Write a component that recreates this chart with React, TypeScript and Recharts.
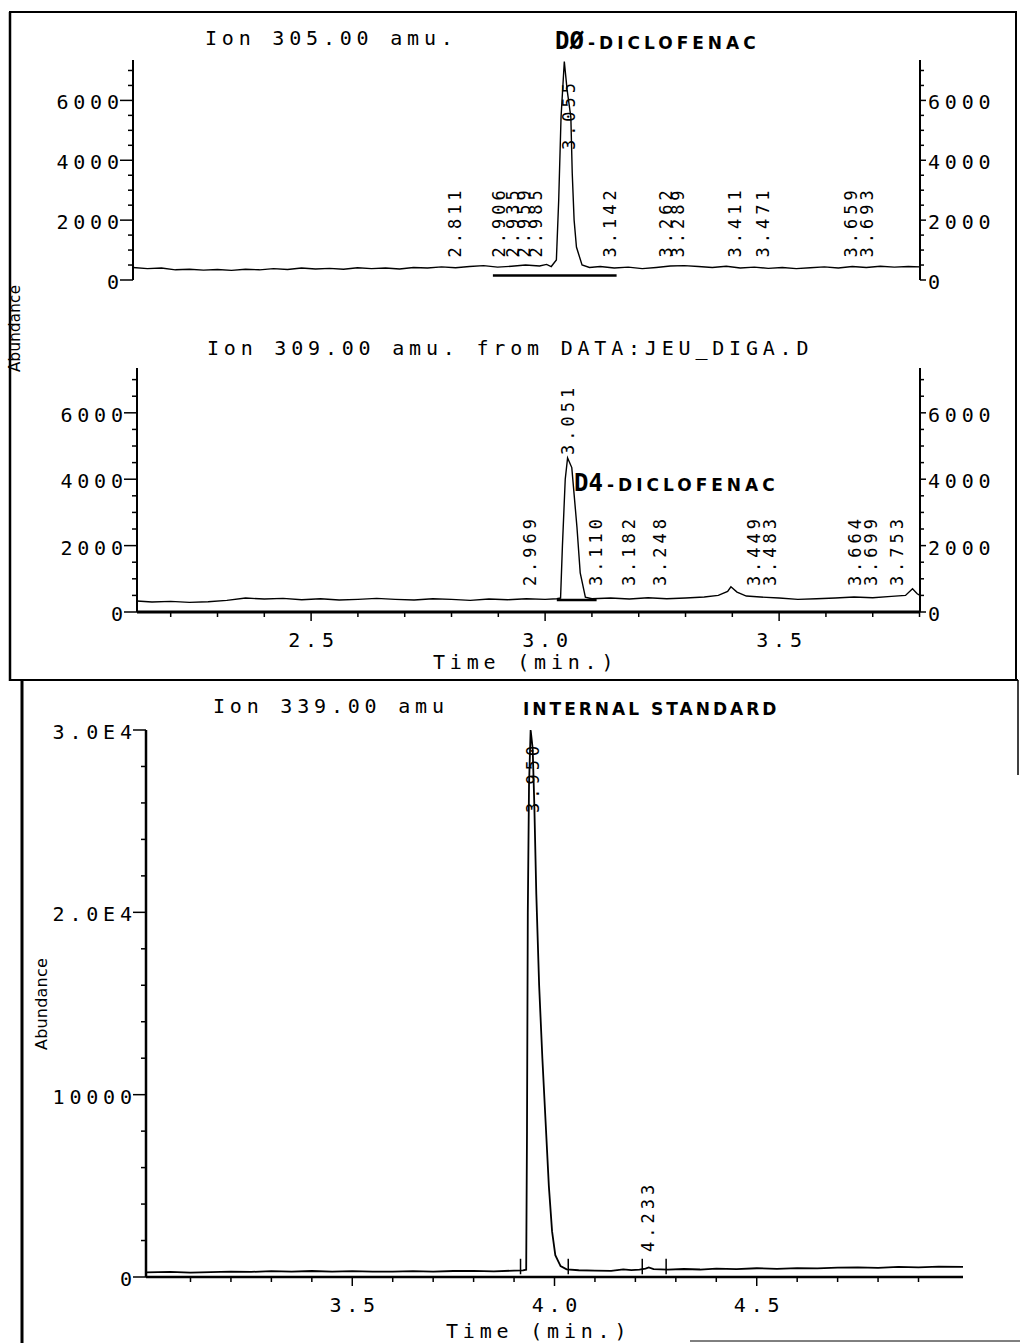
import React from 'react';
import { ComposedChart, Line, Scatter, XAxis, YAxis, ReferenceLine } from 'recharts';

const FONT = '"DejaVu Sans Mono", "Liberation Mono", monospace';
const LS = 4.8;

// ---------- DATA ----------
// Ion 305.00 amu trace: [time (min), abundance]
const ion305: [number, number][] = [
  [2.119, 420], [2.15, 380], [2.18, 400], [2.21, 340], [2.24, 360], [2.27, 330],
  [2.3, 350], [2.33, 320], [2.36, 360], [2.39, 340], [2.42, 380], [2.45, 350],
  [2.48, 400], [2.51, 370], [2.54, 390], [2.57, 360], [2.6, 410], [2.63, 380],
  [2.66, 400], [2.69, 370], [2.72, 420], [2.75, 400], [2.78, 440], [2.81, 410],
  [2.84, 450], [2.87, 480], [2.9, 430], [2.93, 460], [2.96, 500], [2.99, 470],
  [3.005, 520], [3.015, 450], [3.026, 670], [3.031, 2670], [3.036, 5440], [3.043, 7300],
  [3.049, 6350], [3.057, 5440], [3.06, 3570], [3.064, 2000], [3.069, 1100], [3.081, 500],
  [3.097, 420], [3.12, 450], [3.15, 400], [3.18, 430], [3.21, 380], [3.24, 420],
  [3.27, 470], [3.3, 480], [3.33, 450], [3.36, 420], [3.39, 460], [3.42, 400],
  [3.45, 430], [3.48, 390], [3.51, 420], [3.54, 380], [3.57, 410], [3.6, 440],
  [3.63, 400], [3.66, 450], [3.69, 420], [3.72, 460], [3.75, 430], [3.78, 450],
  [3.805, 440],
];
const ion305Integration: [number, number][] = [[2.89, 150], [3.155, 150]];
const ion305PeakTimes = [2.811, 2.906, 2.935, 2.959, 2.985, 3.142, 3.262, 3.289, 3.411, 3.471, 3.659, 3.693];
const ion305ApexTime = 3.055;

// Ion 309.00 amu trace
const ion309: [number, number][] = [
  [2.128, 330], [2.16, 300], [2.2, 320], [2.24, 290], [2.28, 310], [2.32, 350],
  [2.36, 420], [2.4, 390], [2.44, 410], [2.48, 370], [2.52, 400], [2.56, 360],
  [2.6, 380], [2.64, 410], [2.68, 380], [2.72, 360], [2.76, 400], [2.8, 380],
  [2.84, 350], [2.88, 390], [2.92, 370], [2.96, 400], [3.0, 380], [3.025, 400],
  [3.033, 420], [3.037, 2000], [3.043, 4000], [3.048, 4640], [3.057, 4350], [3.068, 2560],
  [3.075, 1180], [3.086, 450], [3.1, 400], [3.14, 420], [3.18, 390], [3.22, 430],
  [3.26, 400], [3.3, 420], [3.34, 450], [3.37, 500], [3.39, 620], [3.397, 760],
  [3.41, 600], [3.43, 480], [3.46, 450], [3.5, 420], [3.54, 380], [3.58, 400],
  [3.62, 420], [3.66, 450], [3.7, 430], [3.74, 470], [3.77, 500], [3.785, 700],
  [3.795, 550], [3.801, 500],
];
const ion309Integration: [number, number][] = [[3.025, 360], [3.11, 360]];
const ion309PeakTimes = [2.969, 3.11, 3.182, 3.248, 3.449, 3.483, 3.664, 3.699, 3.753];
const ion309ApexTime = 3.051;

// Ion 339.00 amu trace (internal standard)
const ion339: [number, number][] = [
  [2.99, 250], [3.05, 280], [3.1, 240], [3.15, 270], [3.2, 300], [3.25, 280],
  [3.3, 320], [3.35, 290], [3.4, 330], [3.45, 300], [3.5, 320], [3.55, 300],
  [3.6, 290], [3.65, 320], [3.7, 300], [3.75, 330], [3.8, 340], [3.85, 310],
  [3.9, 350], [3.922, 360], [3.93, 400], [3.932, 8000], [3.934, 20000], [3.937, 27000],
  [3.941, 30000], [3.946, 29000], [3.95, 26000], [3.955, 21000], [3.962, 16000], [3.97, 12000],
  [3.978, 8500], [3.986, 5000], [3.994, 2500], [4.002, 1200], [4.015, 600], [4.03, 420],
  [4.06, 370], [4.1, 350], [4.14, 340], [4.17, 420], [4.19, 380], [4.21, 400],
  [4.225, 460], [4.233, 520], [4.245, 430], [4.28, 400], [4.32, 440], [4.36, 410],
  [4.4, 460], [4.45, 430], [4.5, 480], [4.55, 450], [4.6, 490], [4.65, 470],
  [4.7, 510], [4.75, 530], [4.8, 500], [4.85, 550], [4.9, 530], [4.95, 570],
  [5.01, 550],
];
const ion339PeakTimes = [4.233];
const ion339ApexTime = 3.95;
const ion339Markers = [3.916, 4.034, 4.217, 4.276];

// ---------- AXIS TICKS ----------
const smallAbundTicks = [0, 500, 1000, 1500, 2000, 2500, 3000, 3500, 4000, 4500, 5000, 5500, 6000, 6500, 7000];
const smallAbundLabels: Record<number, string> = { 0: '0', 2000: '2000', 4000: '4000', 6000: '6000' };
const largeAbundTicks = [0, 2000, 4000, 6000, 8000, 10000, 12000, 14000, 16000, 18000, 20000, 22000, 24000, 26000, 28000, 30000];
const largeAbundLabels: Record<number, string> = { 0: '0', 10000: '10000', 20000: '2.0E4', 30000: '3.0E4' };
const timeTicksA = [2.2, 2.3, 2.4, 2.5, 2.6, 2.7, 2.8, 2.9, 3.0, 3.1, 3.2, 3.3, 3.4, 3.5, 3.6, 3.7, 3.8];
const timeLabelsA = [2.5, 3.0, 3.5];
const timeTicksB = [3.1, 3.2, 3.3, 3.4, 3.5, 3.6, 3.7, 3.8, 3.9, 4.0, 4.1, 4.2, 4.3, 4.4, 4.5, 4.6, 4.7, 4.8, 4.9];
const timeLabelsB = [3.5, 4.0, 4.5];

// ---------- HELPERS ----------
const toPts = (arr: [number, number][]) => arr.map(([t, v]) => ({ t, v }));
const labelPts = (times: number[], level: number) => times.map((t) => ({ t, v: level, text: t.toFixed(3) }));

const LeftTick = (labels: Record<number, string>) => (props: any) => {
  const { x, y, payload } = props;
  const label = labels[payload.value];
  const major = label !== undefined;
  return (
    <g>
      <line x1={x - (major ? 13 : 5)} x2={x} y1={y} y2={y} stroke="#000" strokeWidth={1.5} />
      {major && (
        <text x={x - 14 + LS} y={y + 2} textAnchor="end" dominantBaseline="central" fontFamily={FONT} fontSize={20} letterSpacing={LS} fill="#000">
          {label}
        </text>
      )}
    </g>
  );
};

const RightTick = (labels: Record<number, string>) => (props: any) => {
  const { x, y, payload } = props;
  const label = labels[payload.value];
  const major = label !== undefined;
  return (
    <g>
      <line x1={x} x2={x + (major ? 6 : 4)} y1={y} y2={y} stroke="#000" strokeWidth={1.5} />
      {major && (
        <text x={x + 8} y={y + 2} textAnchor="start" dominantBaseline="central" fontFamily={FONT} fontSize={20} letterSpacing={LS} fill="#000">
          {label}
        </text>
      )}
    </g>
  );
};

const TimeTick = (labels: number[]) => (props: any) => {
  const { x, y, payload } = props;
  const v = payload.value as number;
  const major = labels.some((l) => Math.abs(l - v) < 1e-6);
  return (
    <g>
      <line x1={x} x2={x} y1={y} y2={y + (major ? 9 : 5)} stroke="#000" strokeWidth={1.5} />
      {major && (
        <text x={x + LS / 2} y={y + 35} textAnchor="middle" fontFamily={FONT} fontSize={20} letterSpacing={LS} fill="#000">
          {v.toFixed(1)}
        </text>
      )}
    </g>
  );
};

const PeakLabel = (props: any) => {
  const { cx, cy, payload } = props;
  if (cx == null || cy == null) return <g />;
  const x = cx - 1;
  return (
    <text
      x={x}
      y={cy}
      transform={`rotate(-90 ${x} ${cy})`}
      dominantBaseline="central"
      textAnchor="start"
      fontFamily={FONT}
      fontSize={17}
      letterSpacing={4}
      fill="#000"
    >
      {payload.text}
    </text>
  );
};

const axisLine = { stroke: '#000', strokeWidth: 2 };

export default function App() {
  const p305 = toPts(ion305);
  const p309 = toPts(ion309);
  const p339 = toPts(ion339);
  const lab305 = [...labelPts(ion305PeakTimes, 750), ...labelPts([ion305ApexTime], 4340)];
  const lab309 = [...labelPts(ion309PeakTimes, 780), ...labelPts([ion309ApexTime], 4730)];
  const lab339 = [...labelPts(ion339PeakTimes, 1370), ...labelPts([ion339ApexTime], 25450)];

  const txt = { fontFamily: FONT, fontSize: 20, letterSpacing: LS, fill: '#000' } as const;
  const boldSans = { fontFamily: '"DejaVu Sans", sans-serif', fontWeight: 700, fontSize: 17, letterSpacing: 4, fill: '#000' } as const;
  const bigBold = { fontFamily: FONT, fontWeight: 700, fontSize: 24, fill: '#000' } as const;

  return (
    <div style={{ position: 'absolute', left: 0, top: 0, width: 1020, height: 1343, background: '#fff', overflow: 'hidden' }}>
      {/* Panel 1: Ion 305 */}
      <div style={{ position: 'absolute', left: 0, top: 0 }}>
        <ComposedChart width={1020} height={300} margin={{ top: 60, right: 0, bottom: 20, left: 0 }}>
          <XAxis type="number" dataKey="t" domain={[2.119, 3.805]} hide />
          <YAxis yAxisId="l" type="number" dataKey="v" domain={[0, 7350]} ticks={smallAbundTicks} interval={0}
            width={133} tickSize={0} tickMargin={0} tickLine={false} axisLine={axisLine} tick={LeftTick(smallAbundLabels)} />
          <YAxis yAxisId="r" orientation="right" type="number" dataKey="v" domain={[0, 7350]} ticks={smallAbundTicks} interval={0}
            width={100} tickSize={0} tickMargin={0} tickLine={false} axisLine={axisLine} tick={RightTick(smallAbundLabels)} />
          <Line yAxisId="r" data={p305} dataKey="v" stroke="none" dot={false} isAnimationActive={false} />
          <Line yAxisId="l" data={toPts(ion305Integration)} dataKey="v" type="linear" stroke="#000" strokeWidth={2.5} dot={false} isAnimationActive={false} />
          <Line yAxisId="l" data={p305} dataKey="v" type="linear" stroke="#000" strokeWidth={1.4} dot={false} isAnimationActive={false} />
          <Scatter yAxisId="l" data={lab305} dataKey="v" shape={PeakLabel} isAnimationActive={false} />
        </ComposedChart>
      </div>

      {/* Panel 2: Ion 309 */}
      <div style={{ position: 'absolute', left: 0, top: 300 }}>
        <ComposedChart width={1020} height={380} margin={{ top: 68, right: 0, bottom: 28, left: 0 }}>
          <XAxis type="number" dataKey="t" domain={[2.128, 3.801]} ticks={timeTicksA} interval={0} height={40}
            tickSize={0} tickMargin={0} tickLine={false} axisLine={{ stroke: '#000', strokeWidth: 3 }} tick={TimeTick(timeLabelsA)} />
          <YAxis yAxisId="l" type="number" dataKey="v" domain={[0, 7350]} ticks={smallAbundTicks} interval={0}
            width={137} tickSize={0} tickMargin={0} tickLine={false} axisLine={axisLine} tick={LeftTick(smallAbundLabels)} />
          <YAxis yAxisId="r" orientation="right" type="number" dataKey="v" domain={[0, 7350]} ticks={smallAbundTicks} interval={0}
            width={100} tickSize={0} tickMargin={0} tickLine={false} axisLine={axisLine} tick={RightTick(smallAbundLabels)} />
          <Line yAxisId="r" data={p309} dataKey="v" stroke="none" dot={false} isAnimationActive={false} />
          <Line yAxisId="l" data={toPts(ion309Integration)} dataKey="v" type="linear" stroke="#000" strokeWidth={2.5} dot={false} isAnimationActive={false} />
          <Line yAxisId="l" data={p309} dataKey="v" type="linear" stroke="#000" strokeWidth={1.4} dot={false} isAnimationActive={false} />
          <Scatter yAxisId="l" data={lab309} dataKey="v" shape={PeakLabel} isAnimationActive={false} />
        </ComposedChart>
      </div>

      {/* Panel 3: Ion 339 */}
      <div style={{ position: 'absolute', left: 0, top: 680 }}>
        <ComposedChart width={1020} height={663} margin={{ top: 50, right: 57, bottom: 26, left: 0 }}>
          <XAxis type="number" dataKey="t" domain={[2.99, 5.01]} ticks={timeTicksB} interval={0} height={40}
            tickSize={0} tickMargin={0} tickLine={false} axisLine={{ stroke: '#000', strokeWidth: 2.5 }} tick={TimeTick(timeLabelsB)} />
          <YAxis yAxisId="l" type="number" dataKey="v" domain={[0, 30000]} ticks={largeAbundTicks} interval={0}
            width={146} tickSize={0} tickMargin={0} tickLine={false} axisLine={{ stroke: '#000', strokeWidth: 2.5 }} tick={LeftTick(largeAbundLabels)} />
          {ion339Markers.map((t) => (
            <ReferenceLine key={t} yAxisId="l" segment={[{ x: t, y: 150 }, { x: t, y: 1000 }]} stroke="#000" strokeWidth={1.5} ifOverflow="visible" />
          ))}
          <Line yAxisId="l" data={p339} dataKey="v" type="linear" stroke="#000" strokeWidth={1.8} dot={false} isAnimationActive={false} />
          <Scatter yAxisId="l" data={lab339} dataKey="v" shape={PeakLabel} isAnimationActive={false} />
        </ComposedChart>
      </div>

      {/* Frames and titles */}
      <svg width={1020} height={1343} style={{ position: 'absolute', left: 0, top: 0, pointerEvents: 'none' }}>
        <line x1={9} x2={1017} y1={12} y2={12} stroke="#000" strokeWidth={2} />
        <line x1={10} x2={10} y1={12} y2={681} stroke="#000" strokeWidth={2.5} />
        <line x1={1016} x2={1016} y1={12} y2={681} stroke="#000" strokeWidth={2} />
        <line x1={9} x2={1018} y1={680} y2={680} stroke="#000" strokeWidth={2} />
        <line x1={22} x2={22} y1={680} y2={1343} stroke="#000" strokeWidth={3} />
        <line x1={1018} x2={1018} y1={680} y2={775} stroke="#000" strokeWidth={1.5} />
        <line x1={690} x2={1020} y1={1341} y2={1341} stroke="#000" strokeWidth={1} />

        <text x={205} y={45} {...txt}>Ion 305.00 amu.</text>
        <text x={555} y={49} {...bigBold}>DØ</text>
        <text x={588} y={49} {...boldSans}>-DICLOFENAC</text>

        <text x={207} y={355} {...txt}>Ion 309.00 amu. from DATA:JEU_DIGA.D</text>
        <text x={574} y={491} {...bigBold}>D4</text>
        <text x={607} y={491} {...boldSans}>-DICLOFENAC</text>
        <text x={433} y={669} {...txt}>Time (min.)</text>

        <text x={213} y={713} {...txt}>Ion 339.00 amu</text>
        <text x={523} y={715} fontFamily='"DejaVu Sans", sans-serif' fontWeight={700} fontSize={17} letterSpacing={3} fill="#000">INTERNAL STANDARD</text>
        <text x={446} y={1338} {...txt}>Time (min.)</text>

        <text x={20} y={372} transform="rotate(-90 20 372)" fontFamily='"DejaVu Sans", sans-serif' fontSize={15} letterSpacing={0.3} fill="#000">Abundance</text>
        <text x={47} y={1050} transform="rotate(-90 47 1050)" fontFamily='"DejaVu Sans", sans-serif' fontSize={16} letterSpacing={0.2} fill="#000">Abundance</text>
      </svg>
    </div>
  );
}
